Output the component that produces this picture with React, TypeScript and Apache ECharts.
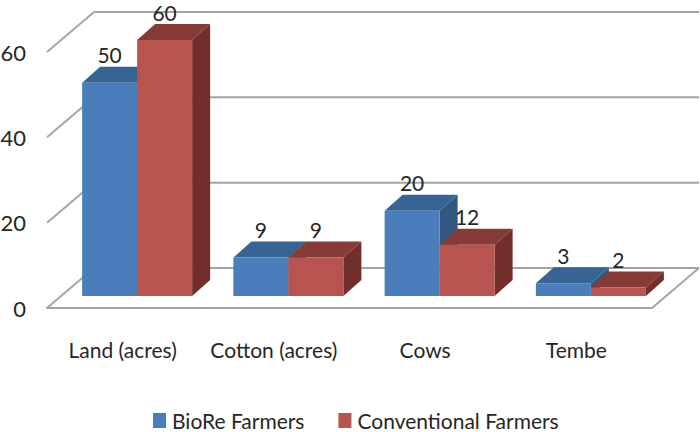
import React, { useEffect, useRef } from "react";
import * as echarts from "echarts";

const categories = ["Land (acres)", "Cotton (acres)", "Cows", "Tembe"];
const bioReValues = [50, 9, 20, 3];
const conventionalValues = [60, 9, 12, 2];
const yTicks = [0, 20, 40, 60];

const FONT = 'Lato, "Noto Sans", sans-serif';
const TEXT = "#262626";
const WALL = "#a3a5a8";

// Projection of the chart box: floor depth, bar depth, bar offset from the front edge.
const WALL_DX = 47;
const WALL_DY = 40;
const BAR_DX = 18;
const BAR_DY = 16;
const BAR_W = 55;
const BAR_SHIFT_X = 14.5;
const BAR_SHIFT_Y = 12;

type Shades = { front: string; top: string; side: string };

const blue: Shades = { front: "#4a7ebb", top: "#386494", side: "#325880" };
const red: Shades = { front: "#b85450", top: "#873b37", side: "#722e2b" };

// One 3D column: front face, top and right side, plus its value above.
function barRenderer(shades: Shades, offset: number) {
  return (_params: any, api: any) => {
    const idx = api.value(0);
    const v = api.value(1);
    const top = api.coord([idx, v]);
    const base = api.coord([idx, 0]);
    const x0 = top[0] + BAR_SHIFT_X + offset;
    const x1 = x0 + BAR_W;
    const yTop = top[1] - BAR_SHIFT_Y;
    const yBase = base[1] - BAR_SHIFT_Y;
    const poly = (points: number[][], fill: string) => ({
      type: "polygon",
      shape: { points },
      style: { fill },
    });
    return {
      type: "group",
      children: [
        poly(
          [
            [x0, yTop],
            [x0 + BAR_DX, yTop - BAR_DY],
            [x1 + BAR_DX, yTop - BAR_DY],
            [x1, yTop],
          ],
          shades.top
        ),
        poly(
          [
            [x1, yTop],
            [x1 + BAR_DX, yTop - BAR_DY],
            [x1 + BAR_DX, yBase - BAR_DY],
            [x1, yBase],
          ],
          shades.side
        ),
        poly(
          [
            [x0, yTop],
            [x1, yTop],
            [x1, yBase],
            [x0, yBase],
          ],
          shades.front
        ),
        {
          type: "text",
          style: {
            text: String(v),
            x: (x0 + x1) / 2,
            y: yTop - 28,
            align: "center",
            verticalAlign: "middle",
            fill: TEXT,
            font: `21px ${FONT}`,
          },
        },
      ],
    };
  };
}

// Back-wall gridline and side-wall diagonal for one tick; the floor also gets its right edge.
function wallRenderer(params: any, api: any) {
  const v = api.value(1);
  const y = api.coord([0, v])[1];
  const sys = params.coordSys;
  const left = sys.x;
  const right = sys.x + sys.width;
  const line = (x1: number, y1: number, x2: number, y2: number) => ({
    type: "line",
    shape: { x1, y1, x2, y2 },
    style: { stroke: WALL, lineWidth: 2 },
  });
  const children = [
    line(left, y, left + WALL_DX, y - WALL_DY),
    line(left + WALL_DX, y - WALL_DY, right + WALL_DX, y - WALL_DY),
  ];
  if (v === 0) {
    children.push(line(right, y, right + WALL_DX, y - WALL_DY));
  }
  return { type: "group", children };
}

export default function App() {
  const ref = useRef<HTMLDivElement>(null);

  useEffect(() => {
    const chart = echarts.init(ref.current!, undefined, { renderer: "svg" });
    chart.setOption({
      animation: false,
      backgroundColor: "#ffffff",
      grid: { left: 47, right: 48, top: 52, bottom: 124, outerBoundsMode: "none" },
      legend: {
        data: ["BioRe Farmers", "Conventional Farmers"],
        left: 153,
        top: 410,
        icon: "rect",
        itemWidth: 13,
        itemHeight: 15,
        itemGap: 34,
        padding: 0,
        textStyle: { color: TEXT, fontFamily: FONT, fontSize: 21, padding: [0, 0, 0, 1] },
      },
      xAxis: {
        type: "category",
        data: categories,
        axisTick: { show: false },
        axisLine: { show: true, lineStyle: { color: WALL, width: 2 } },
        axisLabel: { color: TEXT, fontFamily: FONT, fontSize: 21, margin: 31, interval: 0 },
      },
      yAxis: {
        type: "value",
        min: 0,
        max: 60,
        interval: 20,
        axisLine: { show: false },
        axisTick: { show: false },
        splitLine: { show: false },
        axisLabel: { color: TEXT, fontFamily: FONT, fontSize: 22, margin: 21 },
      },
      series: [
        {
          type: "custom",
          name: "walls",
          clip: false,
          silent: true,
          renderItem: wallRenderer,
          encode: { x: 0, y: 1 },
          data: yTicks.map((t) => [0, t]),
        },
        {
          type: "custom",
          name: "BioRe Farmers",
          clip: false,
          itemStyle: { color: blue.front },
          renderItem: barRenderer(blue, -BAR_W),
          encode: { x: 0, y: 1 },
          data: bioReValues.map((v, i) => [i, v]),
        },
        {
          type: "custom",
          name: "Conventional Farmers",
          clip: false,
          itemStyle: { color: red.front },
          renderItem: barRenderer(red, 0),
          encode: { x: 0, y: 1 },
          data: conventionalValues.map((v, i) => [i, v]),
        },
      ],
    });
    return () => chart.dispose();
  }, []);

  return (
    <div
      ref={ref}
      style={{ position: "fixed", left: 0, top: 0, width: 700, height: 432 }}
    />
  );
}
